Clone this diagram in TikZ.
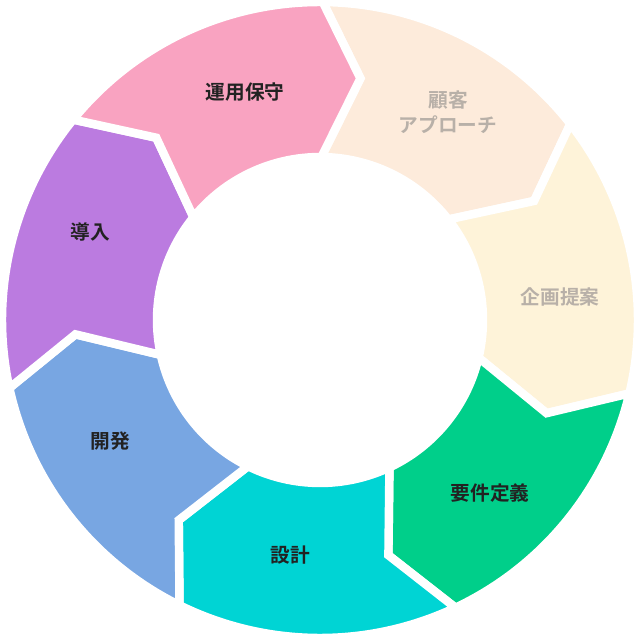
\documentclass[tikz,border=0pt]{standalone}
\usepackage{fontspec}
\newfontfamily\jp{Noto Sans CJK JP}[BoldFont={Noto Sans CJK JP Bold}]
\definecolor{cPeach}{HTML}{FDEBDB}
\definecolor{cCream}{HTML}{FEF3D9}
\definecolor{cGreen}{HTML}{00CF8A}
\definecolor{cCyan}{HTML}{00D4D4}
\definecolor{cBlue}{HTML}{78A6E2}
\definecolor{cPurple}{HTML}{BB7BE0}
\definecolor{cPink}{HTML}{F9A3C1}
\definecolor{tDark}{HTML}{222222}
\definecolor{tLight}{HTML}{B8B0A8}
\tikzset{seg/.style={draw=white,line width=6pt,line join=miter},
lab/.style={font=\jp\bfseries\fontsize{14}{18}\selectfont,align=center,text=tDark},
labl/.style={lab,text=tLight}}
\begin{document}
\begin{tikzpicture}[x=0.025cm,y=0.025cm]
\useasboundingbox (0,0) rectangle (640,640);
\begin{scope}[shift={(320,320)}]
\foreach \k/\c in {0/cPeach,1/cCream,2/cGreen,3/cCyan,4/cBlue,5/cPurple,6/cPink}{
  \pgfmathsetmacro{\a}{89.5-51.4286*\k}
  \pgfmathsetmacro{\b}{\a-51.4286}
  \pgfmathsetmacro{\ap}{\a-9}
  \pgfmathsetmacro{\bp}{\b-9}
  \fill[\c] (\a:318) arc[start angle=\a,end angle=\b,radius=318] -- (\bp:245) -- (\b:163) arc[start angle=\b,end angle=\a,radius=163] -- (\ap:245) -- cycle;
  \draw[seg] (\a:318) arc[start angle=\a,end angle=\b,radius=318] -- (\bp:245) -- (\b:163) arc[start angle=\b,end angle=\a,radius=163] -- (\ap:245) -- cycle;
}
\end{scope}
\node[lab] (unyo) at (245,548) {運用保守};
\node[labl] (kokyaku) at (448,528) {顧客\\アプローチ};
\node[labl] (kikaku) at (560,343) {企画提案};
\node[lab] (yoken) at (490,147) {要件定義};
\node[lab] (sekkei) at (290,85) {設計};
\node[lab] (kaihatsu) at (110,199) {開発};
\node[lab] (donyu) at (90,408) {導入};
\end{tikzpicture}
\end{document}
